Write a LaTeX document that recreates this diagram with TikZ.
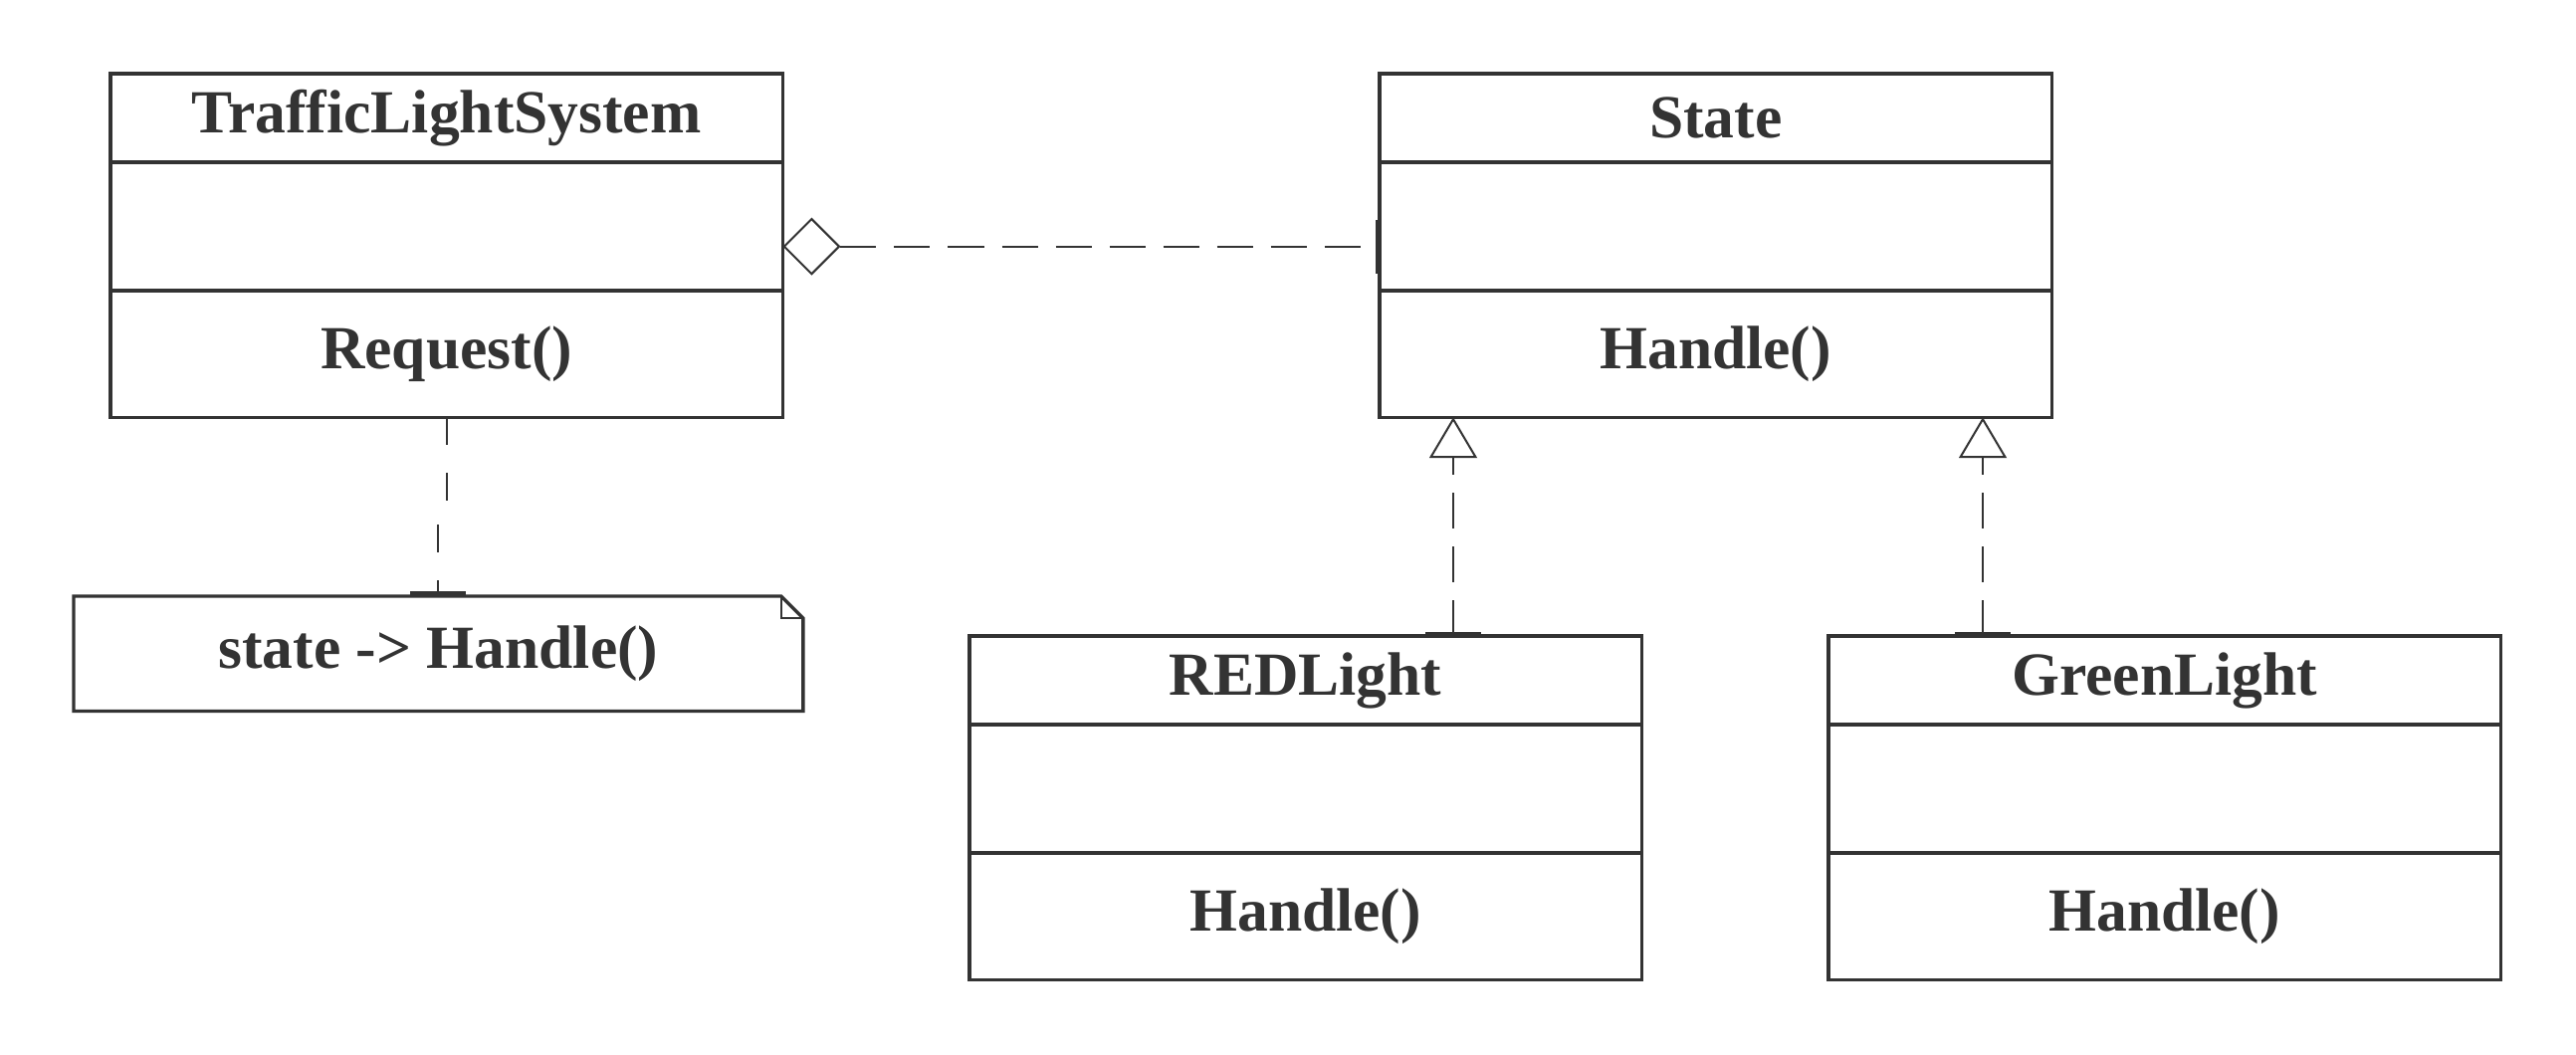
\documentclass[tikz,border=0pt]{standalone}
\usepackage{fontspec}
\setmainfont{Liberation Serif}
\usetikzlibrary{arrows.meta,positioning,shapes.geometric}
\definecolor{umlgray}{HTML}{333333}

\begin{document}
\begin{tikzpicture}[x=0.01cm,y=-0.01cm,>=Latex,color=umlgray,
  font=\fontsize{17.5}{21}\selectfont\bfseries,
  part/.style={draw,line width=0.034cm,minimum width=6.75cm,inner sep=0pt,outer sep=0pt},
  head/.style={part,minimum height=0.89cm},
  attr/.style={part,minimum height=1.29cm},
  meth/.style={part,minimum height=1.27cm},
  dep/.style={line width=0.02cm,dash pattern=on 0.36cm off 0.18cm},
  notedep/.style={line width=0.02cm,dash pattern=on 0.28cm off 0.28cm},
  realize/.style={dep,-{Triangle[length=0.41cm,width=0.48cm,fill=white]}},
  tick/.style={line width=0.035cm}]
\useasboundingbox (0,0) rectangle (2588,1059);
% classes
\node[head,anchor=north west] (tls) at (111,74) {TrafficLightSystem};
\node[attr,below=0pt of tls] (tlsattr) {};
\node[meth,below=0pt of tlsattr] (tlsmeth) {Request()};
\node[head,anchor=north west] (state) at (1386,74) {State};
\node[attr,below=0pt of state] (stateattr) {};
\node[meth,below=0pt of stateattr] (statemeth) {Handle()};
\node[head,anchor=north west] (red) at (974,639) {REDLight};
\node[attr,below=0pt of red] (redattr) {};
\node[meth,below=0pt of redattr] (redmeth) {Handle()};
\node[head,anchor=north west] (green) at (1837,639) {GreenLight};
\node[attr,below=0pt of green] (greenattr) {};
\node[meth,below=0pt of greenattr] (greenmeth) {Handle()};
% note
\node[minimum width=7.31cm,minimum height=1.14cm,inner sep=0pt,anchor=north west] (note) at (74,599) {state -> Handle()};
\draw[line width=0.034cm] (note.north west) -- ([xshift=-0.22cm]note.north east)
  -- ([yshift=-0.22cm]note.north east) -- (note.south east) -- (note.south west) -- cycle;
\draw[line width=0.02cm] ([xshift=-0.22cm]note.north east) |- ([yshift=-0.22cm]note.north east);
% aggregation
\node[diamond,draw,line width=0.02cm,fill=white,minimum width=0.56cm,minimum height=0.56cm,
  inner sep=0pt,anchor=west] (agg) at ([yshift=-0.2cm]tlsattr.east) {};
\draw[dep] (agg.east) -- (agg.east -| stateattr.west);
\draw[tick] ([xshift=-0.02cm]agg.east -| stateattr.west) ++(0,-27) -- ++(0,54);
% realizations
\coordinate (redlink) at (1460,639);
\coordinate (greenlink) at (1992,639);
\draw[realize] (redlink) -- (redlink |- statemeth.south);
\draw[realize] (greenlink) -- (greenlink |- statemeth.south);
\draw[tick] ([xshift=-0.28cm,yshift=0.02cm]redlink) -- ([xshift=0.28cm,yshift=0.02cm]redlink);
\draw[tick] ([xshift=-0.28cm,yshift=0.02cm]greenlink) -- ([xshift=0.28cm,yshift=0.02cm]greenlink);
% note link
\draw[notedep] (tlsmeth.south) -- ([yshift=-0.87cm]tlsmeth.south)
  -- ([yshift=0.86cm]note.north) -- (note.north);
\draw[tick] ([xshift=-0.28cm,yshift=0.03cm]note.north) -- ([xshift=0.28cm,yshift=0.03cm]note.north);
\end{tikzpicture}
\end{document}
